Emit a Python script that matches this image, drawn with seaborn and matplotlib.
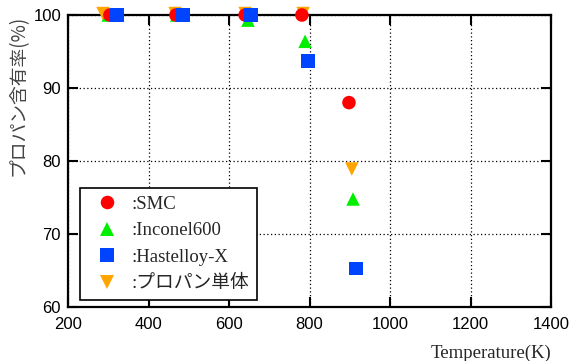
import matplotlib
matplotlib.use("Agg")
import matplotlib.pyplot as plt
import seaborn as sns
import pandas as pd

# data
series = [":SMC", ":Inconel600", ":Hastelloy-X", ":プロパン単体"]
smc_T = [304, 468, 640, 781, 898]
smc_y = [100, 100, 100, 100, 88.0]
inc_T = [300, 470, 647, 789, 908]
inc_y = [100, 100, 99.3, 96.4, 74.8]
has_T = [322, 486, 655, 796, 915]
has_y = [100, 100, 100, 93.7, 65.3]
pro_T = [287, 466, 640, 784, 905]
pro_y = [100.2, 100.2, 100.2, 100.2, 78.9]

colors = ["#ff0000", "#00ee00", "#0044ff", "#ffa500"]
markers = ["o", "^", "s", "v"]

# draw order: propane first, then green, red, blue on top
rows = []
for name, T, y in [(series[3], pro_T, pro_y), (series[1], inc_T, inc_y),
                   (series[0], smc_T, smc_y), (series[2], has_T, has_y)]:
    for t, v in zip(T, y):
        rows.append({"T": t, "rate": v, "kind": name})
df = pd.DataFrame(rows)

sns.set_style("white")
plt.rcParams["font.family"] = ["Liberation Serif", "Noto Sans CJK JP"]

fig = plt.figure(figsize=(5.73, 3.61), dpi=100)
ax = fig.add_axes([0.1187, 0.1496, 0.843, 0.8088])

sns.scatterplot(data=df, x="T", y="rate", hue="kind", style="kind",
                hue_order=series, style_order=series,
                palette=dict(zip(series, colors)),
                markers=dict(zip(series, markers)),
                s=95, linewidth=0, clip_on=False, zorder=5, ax=ax)

ax.set_xlim(200, 1400)
ax.set_ylim(60, 100)
ax.set_xticks(range(200, 1401, 200))
ax.set_yticks(range(60, 101, 10))
ax.grid(True, color="black", linestyle=(0, (1, 2)), linewidth=0.9)
for sp in ax.spines.values():
    sp.set_visible(True)
    sp.set_color("black")
    sp.set_linewidth(1.6)
ax.tick_params(direction="in", length=7, width=1.5, top=True, right=True,
               bottom=True, left=True, labelsize=12, colors="black")
ax.tick_params(axis="x", pad=7)
ax.tick_params(axis="y", pad=5)
for lab in ax.get_xticklabels() + ax.get_yticklabels():
    lab.set_family("Liberation Sans")

ax.set_xlabel("Temperature(K)", fontsize=13.5, loc="right", labelpad=9)
ax.set_ylabel("プロパン含有率(%)", fontsize=13.5, color="#444444",
              family=["Noto Sans CJK JP", "DejaVu Sans"])
ax.yaxis.set_label_coords(-0.082, 0.725)

handles, labels = ax.get_legend_handles_labels()
leg = ax.legend(handles, labels, loc="lower left", bbox_to_anchor=(0.025, 0.024),
                borderaxespad=0, fancybox=False, framealpha=1, edgecolor="black",
                fontsize=13.5, handletextpad=0.25, labelspacing=0.5,
                borderpad=0.4, handlelength=2.1)
leg.get_frame().set_linewidth(1.2)
leg.set_zorder(10)

fig.savefig("out.png", dpi=100)
